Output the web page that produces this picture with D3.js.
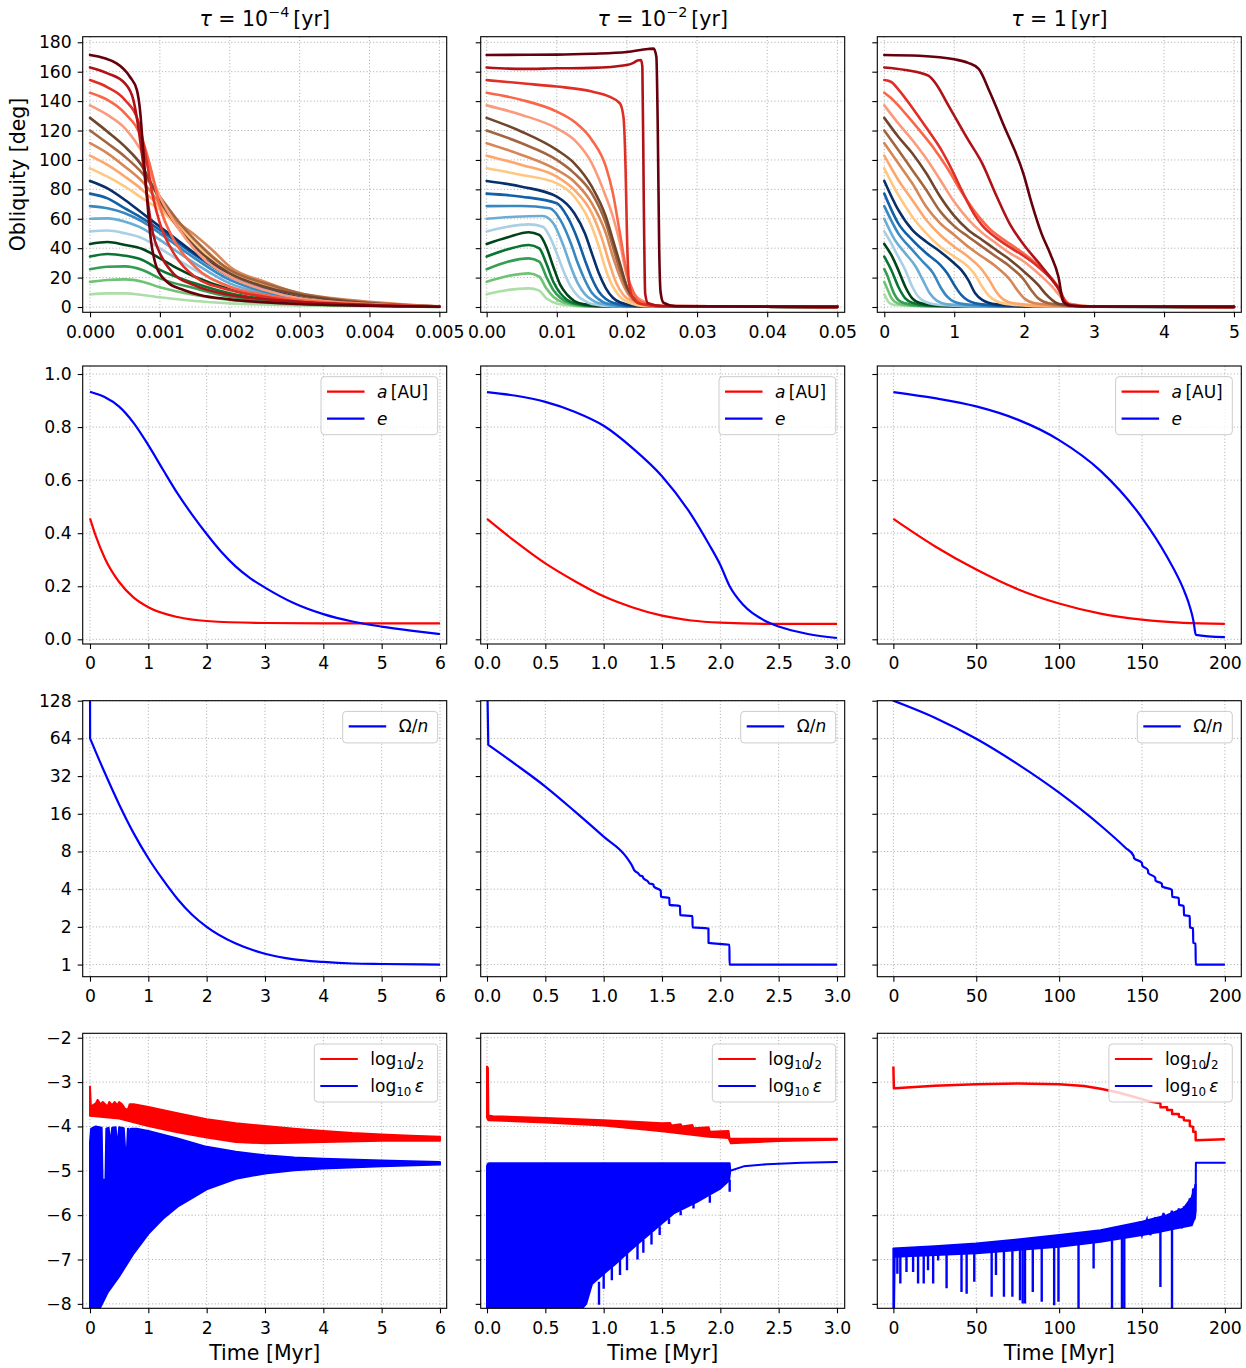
<!DOCTYPE html>
<html>
<head>
<meta charset="utf-8">
<script src="https://cdn.jsdelivr.net/npm/d3@7"></script>
<style>
  body { margin: 0; background: #fff; }
  text { font-family: "DejaVu Sans", sans-serif; fill: #000; }
</style>
</head>
<body>
<svg id="fig" width="1246" height="1368"></svg>
<script>
// ---- tick values ----
const obliquityTicks = [0, 20, 40, 60, 80, 100, 120, 140, 160, 180]
const elementTicks = [0, 0.2, 0.4, 0.6, 0.8, 1.0]
const spinTicks = [1, 2, 4, 8, 16, 32, 64, 128]
const logTicks = [-8, -7, -6, -5, -4, -3, -2]
const timeTicksTau4 = [0, 0.001, 0.002, 0.003, 0.004, 0.005]
const timeTicksTau2 = [0, 0.01, 0.02, 0.03, 0.04, 0.05]
const timeTicksTau0 = [0, 1, 2, 3, 4, 5]
const timeTicksA = [0, 1, 2, 3, 4, 5, 6]
const timeTicksB = [0, 0.5, 1.0, 1.5, 2.0, 2.5, 3.0]
const timeTicksC = [0, 50, 100, 150, 200]
const tauLabels = [['10', '−4'], ['10', '−2'], ['1', null]]

// ---- row 1: obliquity tracks (deg) vs time (Myr), lowest initial tilt first ----
const obliquityTau4 = [
  [[0,8.6],[0.00025,9.3],[0.0005,9.3],[0.00075,8.2],[0.001,6.6],[0.0015,4.1],[0.002,2.5],[0.003,1.1],[0.004,0.5],[0.005,0.1]],
  [[0,17.1],[0.00025,18.4],[0.0005,18.8],[0.00075,17.2],[0.001,13.4],[0.0015,8.2],[0.002,4.8],[0.0025,2.9],[0.003,1.8],[0.004,0.7],[0.005,0.1]],
  [[0,25.7],[0.00025,27.4],[0.0005,27.6],[0.00075,25.2],[0.001,19.5],[0.0015,12.7],[0.002,7.0],[0.0025,4.3],[0.003,2.5],[0.004,0.9],[0.005,0.2]],
  [[0,34.3],[0.00025,36],[0.0005,34.9],[0.00075,32],[0.001,25.2],[0.0015,16.1],[0.002,9.3],[0.0025,5.4],[0.003,3.4],[0.004,1.1],[0.005,0.2]],
  [[0,42.9],[0.00025,44.2],[0.0005,42.2],[0.00075,39.5],[0.001,33.1],[0.00125,26.3],[0.0015,20.6],[0.002,12],[0.0025,7],[0.003,4.1],[0.004,1.4],[0.005,0.2]],
  [[0,51.4],[0.00025,52],[0.0005,50.1],[0.00075,46.7],[0.001,39.9],[0.0015,25.2],[0.002,13.8],[0.0025,8.2],[0.003,4.8],[0.004,1.6],[0.005,0.3]],
  [[0,60],[0.00025,60.3],[0.0005,58],[0.00075,53.5],[0.001,45.6],[0.0015,29.7],[0.002,16.1],[0.0025,9.3],[0.003,5.2],[0.004,1.8],[0.005,0.3]],
  [[0,68.6],[0.00025,67.1],[0.0005,63.7],[0.00075,58],[0.001,50.1],[0.0015,33.1],[0.002,18.4],[0.0025,10.4],[0.003,5.9],[0.004,2],[0.005,0.3]],
  [[0,77.1],[0.00025,73.9],[0.0005,67.1],[0.00075,60.3],[0.001,52.4],[0.0015,35.4],[0.002,20.6],[0.0025,12],[0.003,7],[0.004,2.3],[0.005,0.3]],
  [[0,85.7],[0.00025,80.7],[0.0005,72.8],[0.00075,63.7],[0.001,54.6],[0.00125,45.6],[0.0015,36.5],[0.002,22.9],[0.0025,13.8],[0.003,7.7],[0.004,2.5],[0.005,0.3]],
  [[0,94.3],[0.00025,88.6],[0.0005,81.8],[0.00075,73.9],[0.001,66],[0.0015,43.3],[0.002,24],[0.0025,14.3],[0.003,8.2],[0.004,2.9],[0.005,0.3]],
  [[0,102.9],[0.00025,96.6],[0.0005,88.6],[0.00075,79.6],[0.001,68.2],[0.0015,45.6],[0.002,25.2],[0.0025,15],[0.003,8.8],[0.004,2.9],[0.005,0.3]],
  [[0,111.4],[0.00025,104.5],[0.0005,95.4],[0.00075,85.2],[0.001,70.5],[0.00125,58],[0.0015,49],[0.00175,38.8],[0.002,27.4],[0.0025,17.2],[0.003,9.3],[0.0035,5.9],[0.004,3.6],[0.005,0.4]],
  [[0,120],[0.00025,111.3],[0.0005,102.2],[0.00075,90.9],[0.001,75],[0.00125,59.2],[0.0015,45.6],[0.002,25.2],[0.0025,16.1],[0.003,9.3],[0.004,2.9],[0.005,0.3]],
  [[0,128.6],[0.00025,119.2],[0.0005,109],[0.00075,95.4],[0.0009,81.8],[0.001,72.8],[0.00125,54.6],[0.0015,41],[0.002,22.9],[0.0025,13.8],[0.003,8.2],[0.0035,4.8],[0.004,2.5],[0.005,0.3]],
  [[0,137.1],[0.00025,130.6],[0.0005,121.5],[0.00075,104.5],[0.001,75],[0.00125,54.6],[0.0015,38.8],[0.002,20.6],[0.0025,11.6],[0.003,5.9],[0.004,2],[0.005,0.3]],
  [[0,145.7],[0.00025,140.8],[0.0005,131.7],[0.00075,113.6],[0.0009,88.6],[0.001,68.2],[0.0012,45.6],[0.0015,27.4],[0.002,13.8],[0.0025,8.2],[0.003,4.8],[0.004,1.8],[0.005,0.2]],
  [[0,154.3],[0.00025,149.4],[0.0005,140.8],[0.0007,124.9],[0.0008,102.2],[0.0009,75],[0.001,56.9],[0.0012,36.5],[0.0015,20.6],[0.002,11.6],[0.0025,7],[0.003,3.6],[0.004,1.4],[0.005,0.2]],
  [[0,162.9],[0.00025,158.9],[0.0005,152],[0.00062,140.8],[0.00069,122.6],[0.00076,97.7],[0.00083,70.5],[0.0009,50.1],[0.001,36.5],[0.00119,22.9],[0.00148,15],[0.002,8.2],[0.003,3.6],[0.004,1.4],[0.005,0.2]],
  [[0,171.4],[0.00038,165.7],[0.00057,156.6],[0.00067,147.6],[0.00072,131.7],[0.00076,106.8],[0.00081,77.3],[0.00086,50.1],[0.00095,27.4],[0.0011,17.2],[0.00134,11.6],[0.00157,8.2],[0.002,5.2],[0.003,2],[0.004,0.9],[0.005,0.2]]
]

const obliquityTau2 = [
  [[0,8.6],[0.003,11.6],[0.006,12.7],[0.0075,11.1],[0.0085,5.9],[0.0095,3.2],[0.011,1.4],[0.014,0.4],[0.05,0.1]],
  [[0,17.1],[0.003,21.1],[0.006,22.9],[0.0075,20.6],[0.0085,12.7],[0.0095,7],[0.011,2.9],[0.014,0.6],[0.05,0.1]],
  [[0,25.7],[0.003,30.8],[0.006,33.1],[0.0075,30.8],[0.0085,20.6],[0.0095,11.6],[0.0105,6.3],[0.012,2.5],[0.015,0.6],[0.05,0.1]],
  [[0,34.3],[0.003,39.2],[0.006,42.2],[0.0075,39.9],[0.0085,29.7],[0.0095,17.2],[0.0105,9.3],[0.0115,4.8],[0.013,2],[0.016,0.5],[0.05,0.1]],
  [[0,42.9],[0.003,47.4],[0.006,50.8],[0.0075,49],[0.0085,41],[0.0095,27.4],[0.0105,15],[0.0115,8.2],[0.0125,4.1],[0.014,1.8],[0.017,0.5],[0.05,0.1]],
  [[0,51.4],[0.003,54.6],[0.006,56.2],[0.008,54.6],[0.009,47.8],[0.01,36.5],[0.011,24],[0.012,13.8],[0.013,7.5],[0.014,4.1],[0.015,2],[0.018,0.5],[0.05,0.1]],
  [[0,60],[0.004,61.4],[0.008,61.9],[0.0095,56.9],[0.011,41],[0.012,27.4],[0.013,16.1],[0.014,8.8],[0.015,4.8],[0.016,2.5],[0.019,0.5],[0.05,0.1]],
  [[0,68.6],[0.005,68.7],[0.009,67.1],[0.0105,59.2],[0.012,43.3],[0.013,29.7],[0.014,18.4],[0.015,9.7],[0.016,5.2],[0.017,2.5],[0.02,0.5],[0.05,0.1]],
  [[0,77.1],[0.005,75],[0.01,70.5],[0.0115,61.4],[0.013,45.6],[0.014,32],[0.015,19.5],[0.016,10.4],[0.017,5.4],[0.018,2.9],[0.021,0.5],[0.05,0.1]],
  [[0,85.7],[0.005,81.8],[0.01,75],[0.0125,63.7],[0.014,50.1],[0.015,36.5],[0.016,22.9],[0.017,12.7],[0.018,6.3],[0.019,3.2],[0.022,0.5],[0.05,0.1]],
  [[0,94.3],[0.005,89.8],[0.01,84.1],[0.0125,75],[0.015,54.6],[0.016,41],[0.017,25.2],[0.018,13.8],[0.019,7],[0.02,3.6],[0.023,0.5],[0.05,0.1]],
  [[0,102.9],[0.005,96.6],[0.01,88.6],[0.0125,79.6],[0.015,63.7],[0.0165,45.6],[0.0175,29.7],[0.0185,16.1],[0.0195,8.2],[0.021,3.6],[0.024,0.5],[0.05,0.1]],
  [[0,111.4],[0.005,103.4],[0.01,93.2],[0.0125,85.2],[0.015,70.5],[0.017,50.1],[0.018,34.2],[0.019,20.6],[0.02,10.4],[0.021,4.8],[0.024,0.6],[0.05,0.1]],
  [[0,120],[0.005,111.3],[0.01,100],[0.0125,90.9],[0.015,77.3],[0.017,56.9],[0.018,41],[0.019,25.2],[0.02,12.7],[0.021,5.4],[0.022,2.5],[0.025,0.5],[0.05,0.1]],
  [[0,128.6],[0.005,119.2],[0.01,106.8],[0.0125,97.7],[0.015,81.8],[0.017,61.4],[0.018,45.6],[0.019,29.7],[0.02,13.8],[0.021,5.9],[0.022,2.9],[0.025,0.5],[0.05,0.1]],
  [[0,137.1],[0.005,130.6],[0.01,121.5],[0.0125,113.6],[0.015,97.7],[0.017,75],[0.018,61.4],[0.019,43.3],[0.02,20.6],[0.021,9.3],[0.022,4.8],[0.025,0.6],[0.05,0.1]],
  [[0,145.7],[0.005,140.8],[0.01,132.9],[0.0125,126],[0.015,113.6],[0.017,95.4],[0.018,77.3],[0.019,50.1],[0.02,22.9],[0.021,9.3],[0.022,3.6],[0.025,0.6],[0.05,0.1]],
  [[0,154.3],[0.005,152.1],[0.01,149.9],[0.015,146.5],[0.0175,143],[0.019,138.5],[0.0195,129.4],[0.0198,95.4],[0.02,50.1],[0.0203,16.1],[0.021,4.8],[0.022,2],[0.025,0.5],[0.05,0.1]],
  [[0,162.9],[0.005,161.9],[0.01,162.3],[0.015,162.6],[0.02,164.6],[0.021,166.2],[0.0215,167.6],[0.022,168],[0.0222,163.5],[0.0224,72.8],[0.0226,9.3],[0.023,2.5],[0.025,0.7],[0.05,0.1]],
  [[0,171.4],[0.01,171.6],[0.015,172.2],[0.02,173.4],[0.023,175.4],[0.0238,175.7],[0.0242,170],[0.0244,120],[0.0246,40],[0.0248,10],[0.0252,3],[0.027,0.5],[0.05,0.1]]
]

const obliquityTau0 = [
  [[0,8.6],[0.03,5.9],[0.07,2.9],[0.15,1.4],[0.4,0.7],[1,0.3],[5,0.1]],
  [[0,17.1],[0.05,11.6],[0.1,6.3],[0.15,3.6],[0.25,1.8],[0.5,0.7],[1.2,0.3],[5,0.1]],
  [[0,25.7],[0.05,20.6],[0.1,13.8],[0.15,8.2],[0.2,4.8],[0.3,2.5],[0.5,0.9],[1.2,0.3],[5,0.1]],
  [[0,34.3],[0.1,25.2],[0.2,13.8],[0.3,5.9],[0.4,2.9],[0.6,1.1],[1.3,0.3],[5,0.1]],
  [[0,42.9],[0.1,35.4],[0.2,25.2],[0.3,13.8],[0.4,5.9],[0.5,2.9],[0.7,1.1],[1.4,0.3],[5,0.1]],
  [[0,51.4],[0.1,43.3],[0.2,34.2],[0.3,25.2],[0.4,13.8],[0.5,6.3],[0.6,3.2],[0.8,1.4],[1.5,0.3],[5,0.1]],
  [[0,60],[0.15,45.6],[0.3,36.5],[0.45,27.4],[0.55,18.4],[0.65,9.3],[0.75,4.3],[0.9,1.8],[1.6,0.3],[5,0.1]],
  [[0,68.6],[0.2,50.1],[0.4,38.8],[0.55,30.8],[0.7,22.9],[0.8,13.8],[0.9,7],[1.0,3.6],[1.2,1.6],[1.8,0.3],[5,0.1]],
  [[0,77.1],[0.2,56.9],[0.4,45.6],[0.6,36.5],[0.8,28.6],[0.9,22.9],[1.0,15],[1.1,8.2],[1.2,4.3],[1.4,1.8],[2.0,0.3],[5,0.1]],
  [[0,85.7],[0.2,66],[0.4,52.4],[0.6,44.4],[0.8,37.6],[1.0,29.7],[1.1,25.2],[1.2,18.4],[1.3,9.3],[1.4,4.8],[1.6,1.8],[2.2,0.3],[5,0.1]],
  [[0,94.3],[0.2,76.2],[0.4,61.4],[0.6,50.1],[0.8,41],[1.0,34.2],[1.2,27.4],[1.3,21.8],[1.4,13.8],[1.5,7.5],[1.6,4.1],[1.8,1.8],[2.4,0.3],[5,0.1]],
  [[0,102.9],[0.2,86.4],[0.4,72.8],[0.6,59.2],[0.8,49],[1.0,41],[1.2,34.2],[1.4,25.2],[1.5,18.4],[1.6,10.4],[1.7,5.2],[1.85,2.5],[2.5,0.3],[5,0.1]],
  [[0,111.4],[0.2,97.7],[0.4,84.1],[0.6,68.2],[0.8,56.9],[1.0,49],[1.2,41],[1.4,34.2],[1.6,27.4],[1.8,18.4],[1.9,11.6],[2.0,5.9],[2.15,2.5],[2.7,0.3],[5,0.1]],
  [[0,120],[0.2,106.8],[0.4,93.2],[0.6,79.6],[0.8,65],[1.0,55],[1.2,47.8],[1.4,41],[1.6,34.2],[1.8,27.4],[2.0,18.4],[2.1,11.6],[2.2,5.9],[2.35,2.5],[2.8,0.3],[5,0.1]],
  [[0,128.6],[0.2,115.8],[0.4,104.5],[0.6,90.9],[0.8,75],[1.0,62],[1.2,52.4],[1.4,45.6],[1.6,38.8],[1.8,32],[2.0,24],[2.2,15],[2.3,9.3],[2.4,4.8],[2.5,2],[2.9,0.3],[5,0.1]],
  [[0,137.1],[0.2,124.9],[0.4,113.6],[0.6,101],[0.8,86.4],[1.0,71.5],[1.2,59.6],[1.4,50.4],[1.6,43.3],[1.8,36.5],[2.0,30.8],[2.2,22.9],[2.4,13.8],[2.5,8.2],[2.6,2.9],[3.0,0.3],[5,0.1]],
  [[0,145.7],[0.1,141.9],[0.3,131.7],[0.5,120.4],[0.7,108.5],[0.9,94.5],[1.1,78.5],[1.3,64.5],[1.5,53.5],[1.7,46],[1.9,39.5],[2.1,32.5],[2.3,24],[2.45,16.1],[2.55,7],[2.65,2],[3.0,0.3],[5,0.1]],
  [[0,154.3],[0.1,153],[0.2,148],[0.4,135.5],[0.6,122],[0.8,108],[0.9,99.5],[1.0,90],[1.1,80],[1.2,70.5],[1.3,62],[1.4,55.5],[1.6,47],[1.8,40.5],[2.0,34.5],[2.2,27.4],[2.4,18.4],[2.5,12.7],[2.6,2.9],[2.7,0.9],[3.0,0.3],[5,0.1]],
  [[0,162.9],[0.3,161.2],[0.63,157.3],[0.75,151],[0.9,138.5],[1.2,113.6],[1.4,97.7],[1.6,76],[1.8,56],[2.0,42],[2.2,30.5],[2.4,18.4],[2.5,11.6],[2.58,3],[2.7,0.9],[3.0,0.3],[5,0.1]],
  [[0,171.4],[0.5,170.8],[1.0,168.4],[1.2,166],[1.35,161.9],[1.51,146],[1.7,124.5],[1.99,90.5],[2.11,70.1],[2.25,49.7],[2.37,36.5],[2.49,20.6],[2.56,3.6],[2.65,1],[3.0,0.3],[5,0.1]]
]

const trackColors = ['#addea7', '#70c274', '#359e53', '#0a7433', '#00441b',
  '#a9cfe5', '#6aaed6', '#3787c0', '#1460a8', '#08306b',
  '#ffc77f', '#ffa76a', '#d78656', '#a36641', '#70462c',
  '#fc9b7c', '#fa6648', '#e02f26', '#b01217', '#67000d']

// ---- row 2: semi-major axis a [AU] and eccentricity e ----
const semiMajorA = [
  [[0,0.456],[0.1,0.389],[0.26,0.303],[0.5,0.216],[0.74,0.159],[1.0,0.121],[1.5,0.084],[2.0,0.069],[3.0,0.0614],[4.0,0.0603],[5.0,0.06],[6.0,0.06]],
  [[0,0.454],[0.25,0.366],[0.5,0.286],[0.75,0.22],[1.0,0.162],[1.25,0.12],[1.5,0.089],[1.75,0.071],[2.0,0.063],[2.5,0.058],[3.0,0.058]],
  [[0,0.454],[25,0.351],[50,0.263],[75,0.189],[100,0.135],[125,0.097],[150,0.074],[175,0.062],[200,0.058]]
]
const eccentricity = [
  [[0,0.933],[0.25,0.913],[0.5,0.877],[0.75,0.815],[1.0,0.732],[1.25,0.64],[1.5,0.55],[1.75,0.47],[2.0,0.397],[2.25,0.33],[2.5,0.274],[2.75,0.23],[3.0,0.195],[3.5,0.136],[4.0,0.095],[4.5,0.067],[5.0,0.048],[5.5,0.033],[6.0,0.02]],
  [[0,0.932],[0.25,0.918],[0.5,0.895],[0.75,0.858],[1.0,0.805],[1.25,0.72],[1.5,0.615],[1.75,0.47],[1.9,0.36],[2.0,0.28],[2.08,0.2],[2.2,0.128],[2.4,0.066],[2.5,0.048],[2.75,0.02],[3.0,0.005]],
  [[0,0.932],[25,0.909],[50,0.878],[75,0.828],[100,0.751],[125,0.635],[150,0.458],[165,0.312],[175,0.189],[178,0.14],[180,0.097],[181.3,0.06],[182,0.028],[182.5,0.017],[200,0.008]]
]

// ---- row 3: spin rate over mean motion (first point is the initial spike off the top) ----
const spinRatio = [
  [[0,256],[0.002,64],[0.25,34.3],[0.5,19],[0.75,11.16],[1.0,7.06],[1.25,4.76],[1.5,3.34],[1.75,2.5],[2.0,2.0],[2.5,1.47],[3.0,1.22],[3.5,1.1],[4.0,1.05],[4.5,1.02],[5.0,1.01],[6.0,1.0]],
  [[0,256],[0.011,56.8],[0.25,39.4],[0.5,26.4],[0.75,16.8],[1.0,10.5],[1.2,7.1],[1.254,5.88],[1.26,5.7],[1.3,5.3],[1.31,5.15],[1.334,5.06],[1.34,4.9],[1.38,4.6],[1.39,4.45],[1.426,4.36],[1.43,4.2],[1.49,3.89],[1.491,3.48],[1.563,3.4],[1.564,3.0],[1.655,2.93],[1.656,2.48],[1.761,2.44],[1.762,1.98],[1.898,1.94],[1.899,1.49],[2.078,1.44],[2.079,1.0],[3.0,1.0]],
  [[-0.5,128],[0,128],[25,93.7],[50,63.6],[75,39.9],[100,23.6],[125,12.9],[140,8.57],[145,7.37],[145.1,7.1],[150,6.49],[150.1,6.2],[153.6,5.66],[153.7,5.4],[158,4.95],[158.1,4.7],[162,4.42],[162.1,4.2],[168.1,3.95],[168.2,3.48],[172.2,3.4],[172.3,3.0],[175.2,2.93],[175.3,2.48],[178.8,2.44],[178.9,1.98],[180.8,1.95],[180.9,1.49],[182.3,1.47],[182.4,1.0],[200,1.0]]
]

// ---- row 4: log10 J2 and log10 epsilon (oscillation envelopes) ----
const j2Upper = [
  [[0,-3.1],[0.015,-3.55],[0.1,-3.48],[0.13,-3.4],[0.18,-3.5],[0.22,-3.45],[0.3,-3.55],[0.33,-3.45],[0.38,-3.52],[0.42,-3.45],[0.47,-3.52],[0.5,-3.45],[0.55,-3.5],[0.6,-3.6],[0.65,-3.62],[0.68,-3.5],[0.75,-3.5],[1.0,-3.56],[1.5,-3.7],[2.0,-3.84],[2.5,-3.93],[3.0,-3.99],[3.5,-4.05],[4.0,-4.1],[4.5,-4.15],[5.0,-4.18],[5.5,-4.21],[6.0,-4.23]],
  [[0,-2.65],[0.008,-2.68],[0.012,-3.75],[0.05,-3.77],[0.5,-3.81],[1.0,-3.86],[1.3,-3.9],[1.5,-3.93],[1.57,-3.92],[1.58,-3.98],[1.66,-3.95],[1.67,-4.0],[1.76,-3.97],[1.77,-4.04],[1.9,-4.02],[1.91,-4.12],[2.07,-4.1],[2.08,-4.28],[2.5,-4.28],[3.0,-4.28]]
]
const j2Lower = [
  [[0,-3.76],[0.5,-3.82],[1.0,-3.99],[1.5,-4.13],[2.0,-4.25],[2.5,-4.35],[3.0,-4.38],[3.5,-4.37],[4.0,-4.35],[5.0,-4.32],[6.0,-4.32]],
  [[0,-3.8],[0.012,-3.86],[0.5,-3.91],[1.0,-3.98],[1.5,-4.11],[1.9,-4.23],[2.07,-4.26],[2.09,-4.38],[2.5,-4.33],[3.0,-4.3]]
]
const j2Track = [[0,-2.65],[0.3,-3.14],[1,-3.14],[25,-3.08],[50,-3.05],[75,-3.03],[100,-3.05],[115,-3.09],[125,-3.15],[135,-3.23],[145,-3.33],[155,-3.44],[161.1,-3.48],[161.2,-3.57],[165.1,-3.57],[165.2,-3.63],[168.1,-3.63],[168.2,-3.72],[172.2,-3.72],[172.3,-3.78],[175.2,-3.8],[175.3,-3.86],[178.8,-3.87],[178.9,-3.99],[180.8,-4.01],[180.9,-4.12],[182.3,-4.12],[182.4,-4.31],[200,-4.29]]

const epsUpper = [
  [[0,-4.35],[0.02,-4.05],[0.1,-4.0],[0.2,-4.03],[0.215,-5.2],[0.265,-5.2],[0.28,-4.05],[0.32,-4.03],[0.35,-4.42],[0.38,-4.03],[0.44,-4.02],[0.47,-4.5],[0.5,-4.02],[0.58,-4.04],[0.62,-4.9],[0.65,-4.05],[0.66,-4.05],[0.68,-4.3],[0.7,-4.05],[0.8,-4.05],[1.0,-4.1],[1.5,-4.27],[2.0,-4.46],[2.5,-4.57],[3.0,-4.65],[3.5,-4.7],[4.0,-4.73],[5.0,-4.77],[6.0,-4.8]],
  [[0,-4.9],[0.005,-4.85],[0.02,-4.83],[2.08,-4.83],[2.085,-5.0],[2.2,-4.9],[2.4,-4.85],[2.7,-4.82],[3.0,-4.8]],
  [[0,-6.75],[25,-6.7],[50,-6.64],[75,-6.55],[100,-6.45],[125,-6.34],[150,-6.15],[165,-6.0],[175,-5.85],[180,-5.6],[182,-5.36],[182.4,-5.3],[182.5,-4.82],[200,-4.82]]
]
const epsLower = [
  [[0,-8.15],[0.15,-8.15],[0.3,-7.75],[0.5,-7.38],[0.75,-6.86],[1.0,-6.42],[1.25,-6.08],[1.5,-5.81],[2.0,-5.42],[2.5,-5.18],[3.0,-5.06],[3.5,-4.99],[4.0,-4.95],[5.0,-4.9],[6.0,-4.86]],
  [[0,-8.15],[0.8,-8.15],[0.85,-8.0],[0.9,-7.55],[1.0,-7.32],[1.1,-7.1],[1.2,-6.86],[1.3,-6.63],[1.4,-6.41],[1.5,-6.18],[1.6,-5.96],[1.7,-5.83],[1.8,-5.7],[1.9,-5.55],[2.0,-5.4],[2.075,-5.22],[2.085,-5.0],[2.2,-4.9],[2.4,-4.85],[2.7,-4.82],[3.0,-4.8]],
  [[0,-8.15],[0.4,-8.15],[0.8,-6.94],[50,-6.86],[100,-6.71],[125,-6.6],[150,-6.45],[160,-6.38],[170,-6.3],[180,-6.23],[182,-6.04],[182.4,-5.9],[182.5,-4.82],[200,-4.82]]
]
// [time, from, to] downward spikes of the epsilon oscillation
const epsSpikes = [
  [],
  [[0.96,-7.5,-8.02],[1.0,-7.3,-7.66],[1.07,-7.15,-7.47],[1.14,-6.98,-7.35],[1.2,-6.86,-7.24],[1.29,-6.65,-7.0],[1.34,-6.55,-6.85],[1.41,-6.4,-6.66],[1.48,-6.25,-6.45],[1.56,-6.07,-6.2],[1.66,-5.9,-6.0],[1.77,-5.73,-5.85],[1.91,-5.55,-5.72],[2.08,-5.2,-5.47]],
  [[2.4,-6.9,-7.32],[4.2,-6.9,-7.54],[7.9,-6.9,-7.28],[11.9,-6.9,-7.28],[14.9,-6.9,-7.54],[18.3,-6.9,-7.54],[20.9,-6.9,-7.24],[24.0,-6.9,-7.54],[27.0,-6.9,-7.02],[32.1,-6.9,-7.65],[41.1,-6.85,-7.73],[44.2,-6.85,-7.77],[48.8,-6.85,-7.5],[59.3,-6.8,-7.84],[61.9,-6.8,-7.35],[66.7,-6.8,-7.84],[71.8,-6.78,-7.84],[76.4,-6.76,-7.92],[78.0,-6.76,-7.99],[79.4,-6.76,-7.99],[84.1,-6.75,-7.73],[89.5,-6.74,-7.95],[97.0,-6.72,-8.03],[99.6,-6.72,-7.95],[111.7,-6.66,-8.2],[120.8,-6.62,-7.2],[131.9,-6.57,-8.2],[137.9,-6.52,-8.2],[139.3,-6.52,-8.2],[161.1,-6.38,-7.62],[168.1,-6.32,-8.2]]
]
const epsZigzag = [[148,-6.15],[150,-6.45],[153,-6.1],[155,-6.45],[158,-6.05],[160,-6.4],[163,-5.95],[165,-6.35],[168,-5.9],[170,-6.3],[172.2,-5.85],[174,-6.3],[175.3,-5.8],[177,-6.25],[178.8,-5.62],[180,-6.2],[180.8,-5.4],[181.6,-6.1],[182.3,-5.3]]

// ---- layout ----
const W = 1246, H = 1368
const colLeft = [82.7, 480.7, 877.3], panelW = 364
const rowTop = [36.7, 366, 700.7, 1033.3]
const rowH = [275.6, 278, 276, 275]
const xDomains = [
  [[-0.000105, 0.005105], [-0.00085, 0.05105], [-0.1, 5.105]],
  [[-0.125, 6.115], [-0.054, 3.066], [-9.7, 209.9]]
]
const tickFont = 17.2, labelFont = 20.5, legendFont = 17

const svg = d3.select('#fig')
svg.append('rect').attr('width', W).attr('height', H).attr('fill', '#fff')

function panel(row, col, xDom, yScale, xTicks, yTicks) {
  const x0 = colLeft[col], y0 = rowTop[row], w = panelW, h = rowH[row]
  const x = d3.scaleLinear().domain(xDom).range([x0, x0 + w])
  const y = yScale.range([y0 + h, y0])
  const id = `clip-${row}-${col}`
  svg.append('clipPath').attr('id', id)
    .append('rect').attr('x', x0).attr('y', y0).attr('width', w).attr('height', h)
  const g = svg.append('g')
  const grid = g.append('g')
    .attr('stroke', '#b0b0b0').attr('stroke-width', 1).attr('stroke-dasharray', '1.1,2.2')
  grid.selectAll('.gx').data(xTicks).join('line').attr('class', 'gx')
    .attr('x1', d => x(d)).attr('x2', d => x(d)).attr('y1', y0).attr('y2', y0 + h)
  grid.selectAll('.gy').data(yTicks).join('line').attr('class', 'gy')
    .attr('y1', d => y(d)).attr('y2', d => y(d)).attr('x1', x0).attr('x2', x0 + w)
  const plot = g.append('g').attr('clip-path', `url(#${id})`)
  const top = g.append('g')
  return { x, y, x0, y0, w, h, plot, top }
}

function axes(p, xTicks, xFmt, yTicks, yFmt) {
  const ax = p.top.append('g').attr('transform', `translate(0,${p.y0 + p.h})`)
    .call(d3.axisBottom(p.x).tickValues(xTicks).tickFormat(xFmt).tickSize(5).tickPadding(8))
  const ay = p.top.append('g').attr('transform', `translate(${p.x0},0)`)
    .call(d3.axisLeft(p.y).tickValues(yTicks).tickFormat(yFmt).tickSize(5).tickPadding(6))
  for (const a of [ax, ay]) {
    a.select('.domain').remove()
    a.attr('font-size', null).attr('font-family', null)
    a.selectAll('line').attr('stroke', '#000').attr('stroke-width', 1.1)
    a.selectAll('text').attr('font-size', tickFont).attr('fill', '#000')
  }
  p.top.append('rect').attr('x', p.x0).attr('y', p.y0).attr('width', p.w).attr('height', p.h)
    .attr('fill', 'none').attr('stroke', '#000').attr('stroke-width', 1.1)
}

// mathtext-ish labels: [string, kind] with kind '', 'i', 'sub', 'sup'
function richText(sel, parts, size) {
  let shift = 0
  for (const [str, kind] of parts) {
    const t = sel.append('tspan').text(str)
    let target = 0
    if (kind === 'sub') { target = size * 0.24; t.attr('font-size', size * 0.7) }
    if (kind === 'sup') { target = -size * 0.42; t.attr('font-size', size * 0.7) }
    if (kind === 'i') t.attr('font-style', 'italic')
    if (target - shift !== 0) t.attr('dy', target - shift)
    shift = target
  }
}

function legend(p, entries, boxW) {
  const bx = p.x0 + p.w - 9 - boxW, by = p.y0 + 10.7
  const boxH = 5 + 26.5 * entries.length
  const lg = p.top.append('g')
  lg.append('rect').attr('x', bx).attr('y', by).attr('width', boxW).attr('height', boxH)
    .attr('rx', 3.5).attr('fill', '#fff').attr('fill-opacity', 0.8)
    .attr('stroke', '#cccccc').attr('stroke-width', 1)
  entries.forEach((e, i) => {
    const ey = by + 15 + 27 * i
    lg.append('line').attr('x1', bx + 6).attr('x2', bx + 43.5).attr('y1', ey).attr('y2', ey)
      .attr('stroke', e.color).attr('stroke-width', 2.2)
    const t = lg.append('text').attr('x', bx + 56).attr('y', ey + 6).attr('font-size', legendFont)
    richText(t, e.parts, legendFont)
  })
}

const lineGen = (p, curve) => d3.line().x(d => p.x(d[0])).y(d => p.y(d[1])).curve(curve)

const fmtInt = d3.format('d'), fmt1 = d3.format('.1f')
const row1Sets = [obliquityTau4, obliquityTau2, obliquityTau0]
const row1Ticks = [timeTicksTau4, timeTicksTau2, timeTicksTau0]
const row1Fmt = [d3.format('.3f'), d3.format('.2f'), fmtInt]
const lowTicks = [timeTicksA, timeTicksB, timeTicksC]
const lowFmt = [fmtInt, fmt1, fmtInt]
const blank = () => ''

for (let c = 0; c < 3; c++) {
  // row 1: obliquity
  const p1 = panel(0, c, xDomains[0][c], d3.scaleLinear().domain([-3.6, 183.8]), row1Ticks[c], obliquityTicks)
  row1Sets[c].forEach((track, i) => {
    p1.plot.append('path').attr('d', lineGen(p1, d3.curveMonotoneX)(track))
      .attr('fill', 'none').attr('stroke', trackColors[i]).attr('stroke-width', 2.6)
      .attr('stroke-linejoin', 'round').attr('stroke-linecap', 'round')
  })
  axes(p1, row1Ticks[c], row1Fmt[c], obliquityTicks, c === 0 ? fmtInt : blank)
  const tt = svg.append('text').attr('x', colLeft[c] + panelW / 2).attr('y', 25.5)
    .attr('text-anchor', 'middle').attr('font-size', labelFont)
  const [base, exp] = tauLabels[c]
  const parts = [['τ', 'i'], [' = ' + base, '']]
  if (exp) parts.push([exp, 'sup'])
  parts.push(['\u2009[yr]', ''])
  richText(tt, parts, labelFont)

  // row 2: a and e
  const p2 = panel(1, c, xDomains[1][c], d3.scaleLinear().domain([-0.0177, 1.0302]), lowTicks[c], elementTicks)
  p2.plot.append('path').attr('d', lineGen(p2, d3.curveMonotoneX)(semiMajorA[c]))
    .attr('fill', 'none').attr('stroke', '#ff0000').attr('stroke-width', 2.2)
  p2.plot.append('path').attr('d', lineGen(p2, d3.curveMonotoneX)(eccentricity[c]))
    .attr('fill', 'none').attr('stroke', '#0000ff').attr('stroke-width', 2.2)
  axes(p2, lowTicks[c], lowFmt[c], elementTicks, c === 0 ? fmt1 : blank)
  legend(p2, [
    { color: '#ff0000', parts: [['a', 'i'], ['\u2009[AU]', '']] },
    { color: '#0000ff', parts: [['e', 'i']] }
  ], 116.7)

  // row 3: spin / mean motion, log2 axis; the initial drop is straight, the rest smooth
  const p3 = panel(2, c, xDomains[1][c], d3.scaleLog().base(2).domain([0.8, 128]), lowTicks[c], spinTicks)
  const spin = spinRatio[c]
  p3.plot.append('path')
    .attr('d', lineGen(p3, d3.curveLinear)(spin.slice(0, 2)) + lineGen(p3, d3.curveMonotoneX)(spin.slice(1)).replace(/^M/, 'L'))
    .attr('fill', 'none').attr('stroke', '#0000ff').attr('stroke-width', 2.2).attr('stroke-linejoin', 'round')
  axes(p3, lowTicks[c], lowFmt[c], spinTicks, c === 0 ? fmtInt : blank)
  legend(p3, [{ color: '#0000ff', parts: [['Ω/', ''], ['n', 'i']] }], 95)

  // row 4: log J2 and log epsilon
  const p4 = panel(3, c, xDomains[1][c], d3.scaleLinear().domain([-8.1, -1.9]), lowTicks[c], logTicks)
  const lin = lineGen(p4, d3.curveLinear)
  const band = (upper, lower, color) => {
    p4.plot.append('path').attr('d', lin(upper.concat(lower.slice().reverse())) + 'Z')
      .attr('fill', color).attr('stroke', color).attr('stroke-width', 2).attr('stroke-linejoin', 'round')
  }
  if (c < 2) band(j2Upper[c], j2Lower[c], '#ff0000')
  else p4.plot.append('path').attr('d', lin(j2Track)).attr('fill', 'none')
    .attr('stroke', '#ff0000').attr('stroke-width', 2.5).attr('stroke-linejoin', 'round')
  band(epsUpper[c], epsLower[c], '#0000ff')
  p4.plot.selectAll('.spike').data(epsSpikes[c]).join('line').attr('class', 'spike')
    .attr('x1', d => p4.x(d[0])).attr('x2', d => p4.x(d[0]))
    .attr('y1', d => p4.y(d[1])).attr('y2', d => p4.y(d[2]))
    .attr('stroke', '#0000ff').attr('stroke-width', 2.4)
  if (c === 2) p4.plot.append('path').attr('d', lin(epsZigzag)).attr('fill', 'none')
    .attr('stroke', '#0000ff').attr('stroke-width', 2.2)
  axes(p4, lowTicks[c], lowFmt[c], logTicks, c === 0 ? fmtInt : blank)
  legend(p4, [
    { color: '#ff0000', parts: [['log', ''], ['10', 'sub'], ['J', 'i'], ['2', 'sub']] },
    { color: '#0000ff', parts: [['log', ''], ['10', 'sub'], ['\u2009', ''], ['ε', 'i']] }
  ], 123.4)

  svg.append('text').attr('x', colLeft[c] + panelW / 2).attr('y', 1360)
    .attr('text-anchor', 'middle').attr('font-size', labelFont).text('Time [Myr]')
}

svg.append('text').attr('transform', `translate(24.5,${rowTop[0] + rowH[0] / 2}) rotate(-90)`)
  .attr('text-anchor', 'middle').attr('font-size', labelFont).text('Obliquity [deg]')
</script>
</body>
</html>
